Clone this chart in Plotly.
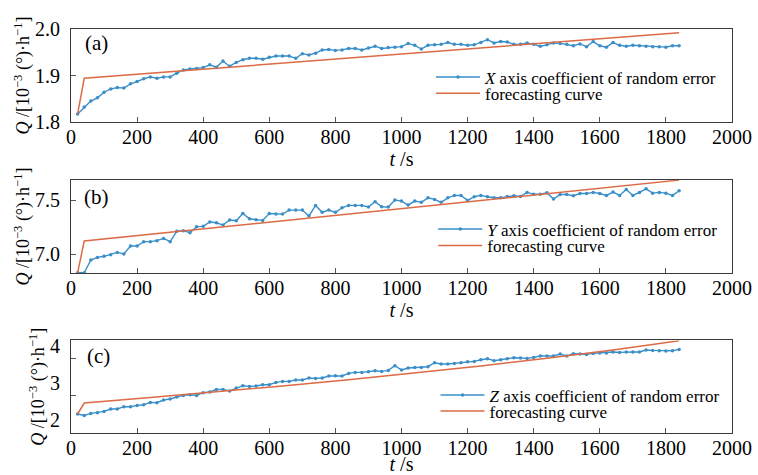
import plotly.graph_objects as go

# sampling instants (s)
t_s = [20, 40, 60, 80, 100, 120, 140, 160, 180, 200, 220, 240, 260, 280, 300,
       320, 340, 360, 380, 400, 420, 440, 460, 480, 500, 520, 540, 560, 580, 600,
       620, 640, 660, 680, 700, 720, 740, 760, 780, 800, 820, 840, 860, 880, 900,
       920, 940, 960, 980, 1000, 1020, 1040, 1060, 1080, 1100, 1120, 1140, 1160,
       1180, 1200, 1220, 1240, 1260, 1280, 1300, 1320, 1340, 1360, 1380, 1400,
       1420, 1440, 1460, 1480, 1500, 1520, 1540, 1560, 1580, 1600, 1620, 1640,
       1660, 1680, 1700, 1720, 1740, 1760, 1780, 1800, 1820, 1840]

# random-error coefficient, X axis
q_x = [1.817, 1.832, 1.845, 1.852, 1.864, 1.871, 1.874, 1.873, 1.882, 1.887,
       1.893, 1.897, 1.894, 1.897, 1.897, 1.905, 1.912, 1.914, 1.915, 1.917,
       1.923, 1.918, 1.931, 1.920, 1.928, 1.934, 1.937, 1.937, 1.935, 1.939,
       1.942, 1.942, 1.942, 1.937, 1.947, 1.944, 1.948, 1.955, 1.956, 1.954,
       1.955, 1.958, 1.958, 1.955, 1.959, 1.963, 1.958, 1.960, 1.961, 1.962,
       1.969, 1.965, 1.957, 1.965, 1.966, 1.967, 1.971, 1.967, 1.967, 1.965,
       1.966, 1.971, 1.977, 1.970, 1.973, 1.972, 1.967, 1.967, 1.970, 1.967,
       1.963, 1.966, 1.970, 1.969, 1.967, 1.964, 1.968, 1.962, 1.973, 1.964,
       1.961, 1.971, 1.965, 1.963, 1.965, 1.964, 1.963, 1.962, 1.962, 1.961,
       1.964, 1.964]

# random-error coefficient, Y axis
q_y = [6.830, 6.830, 6.948, 6.972, 6.982, 6.997, 7.018, 7.003, 7.077, 7.077,
       7.117, 7.117, 7.126, 7.147, 7.117, 7.212, 7.218, 7.199, 7.255, 7.258,
       7.298, 7.291, 7.270, 7.316, 7.310, 7.377, 7.328, 7.319, 7.313, 7.377,
       7.371, 7.371, 7.408, 7.408, 7.408, 7.353, 7.451, 7.387, 7.408, 7.387,
       7.429, 7.451, 7.451, 7.451, 7.436, 7.485, 7.439, 7.436, 7.500, 7.491,
       7.454, 7.491, 7.479, 7.521, 7.506, 7.479, 7.521, 7.543, 7.543, 7.497,
       7.531, 7.543, 7.531, 7.521, 7.521, 7.534, 7.540, 7.534, 7.571, 7.555,
       7.555, 7.567, 7.509, 7.552, 7.552, 7.540, 7.561, 7.561, 7.571, 7.561,
       7.543, 7.574, 7.543, 7.598, 7.543, 7.571, 7.604, 7.564, 7.571, 7.564,
       7.543, 7.586]

# random-error coefficient, Z axis
q_z = [2.513, 2.475, 2.529, 2.548, 2.583, 2.648, 2.648, 2.710, 2.710, 2.745,
       2.764, 2.826, 2.818, 2.891, 2.918, 2.972, 3.015, 3.034, 3.015, 3.088,
       3.107, 3.177, 3.177, 3.134, 3.215, 3.277, 3.258, 3.269, 3.304, 3.304,
       3.366, 3.393, 3.393, 3.431, 3.431, 3.485, 3.474, 3.485, 3.539, 3.547,
       3.539, 3.609, 3.636, 3.636, 3.655, 3.682, 3.663, 3.690, 3.817, 3.701,
       3.755, 3.771, 3.771, 3.790, 3.898, 3.863, 3.863, 3.879, 3.898, 3.925,
       3.933, 3.979, 4.006, 3.952, 3.979, 4.006, 4.033, 4.025, 4.014, 4.041,
       4.079, 4.079, 4.079, 4.133, 4.079, 4.141, 4.133, 4.122, 4.149, 4.160,
       4.160, 4.187, 4.176, 4.187, 4.187, 4.187, 4.241, 4.230, 4.222, 4.214,
       4.222, 4.257]

# forecasting curves
fc_t_x = [20, 40, 1840]
fc_x = [1.817, 1.894, 1.992]
fc_t_y = [20, 40, 1840]
fc_y = [6.830, 7.123, 7.684]
fc_t_z = [20, 40, 240, 440, 640, 840, 1040, 1240, 1440, 1640, 1840]
fc_z = [2.513, 2.810, 2.960, 3.110, 3.270, 3.440, 3.620, 3.810, 4.020, 4.240, 4.490]

x_ticks = [0, 200, 400, 600, 800, 1000, 1200, 1400, 1600, 1800, 2000]
axis_names = ["X", "Y", "Z"]
panel_tags = ["(a)", "(b)", "(c)"]
y_ranges = [[1.8, 2.0], [6.828, 7.685], [2.0, 4.5]]
y_tickvals = [[1.8, 1.9, 2.0], [7.0, 7.5], [2, 3, 4]]
y_formats = [".1f", ".1f", "d"]
y_label_shift = [0, 0, -13]

BLUE = "#3a8fc8"
ORANGE = "#dc6a45"
FONT = "Liberation Serif, DejaVu Serif, serif"
FRAME = "#3a3a3a"

series = [(t_s, q_x, fc_t_x, fc_x), (t_s, q_y, fc_t_y, fc_y), (t_s, q_z, fc_t_z, fc_z)]

# vertical extents of the three panels (paper fractions)
domains = [[0.7698, 1.0], [0.396, 0.6262], [0.0, 0.2292]]
# legend row centres (paper fractions) and left edges
legend_rows = [(0.880, 0.8396), (0.5037, 0.4627), (0.0929, 0.0532)]
legend_x = [0.5446, 0.548, 0.5515]
tag_pos = [(0.018, 0.849), (0.016, 0.82), (0.021, 0.827)]

fig = go.Figure()
layout = dict(
    template="none",
    width=758, height=475,
    margin=dict(l=71, r=26, t=29, b=42, autoexpand=False),
    paper_bgcolor="white", plot_bgcolor="white",
    font=dict(family=FONT, size=20, color="black"),
    showlegend=True,
)

annotations = []
for i, (tx, qv, ftx, fv) in enumerate(series):
    n = "" if i == 0 else str(i + 1)
    xa, ya = "x" + n, "y" + n
    lg_a = "legend" if i == 0 else "legend" + str(2 * i + 1)
    lg_b = "legend" + str(2 * i + 2)

    fig.add_trace(go.Scatter(
        x=tx, y=qv, xaxis=xa, yaxis=ya, mode="lines+markers",
        name="<i>%s</i> axis coefficient of random error" % axis_names[i],
        line=dict(color=BLUE, width=1.4),
        marker=dict(color=BLUE, size=3.5),
        legend=lg_a,
    ))
    fig.add_trace(go.Scatter(
        x=ftx, y=fv, xaxis=xa, yaxis=ya, mode="lines",
        name="forecasting curve",
        line=dict(color=ORANGE, width=1.5),
        legend=lg_b,
    ))

    for lg, yc in ((lg_a, legend_rows[i][0]), (lg_b, legend_rows[i][1])):
        layout[lg] = dict(
            x=legend_x[i], y=yc, xanchor="left", yanchor="middle",
            bgcolor="rgba(0,0,0,0)", borderwidth=0, itemwidth=44,
            font=dict(family=FONT, size=17, color="black"),
        )

    layout["xaxis" + n] = dict(
        domain=[0, 1], anchor=ya, range=[0, 2000], automargin=False,
        tickvals=x_ticks, ticks="inside", ticklen=5, tickcolor="#555",
        showline=True, linecolor=FRAME, linewidth=1, mirror=True,
        showgrid=False, zeroline=False,
        tickfont=dict(family=FONT, size=20),
        ticklabelstandoff=-3,
        title=dict(text="<i>t</i> /s", font=dict(family=FONT, size=20), standoff=0),
    )
    layout["yaxis" + n] = dict(
        domain=domains[i], anchor=xa, range=y_ranges[i], automargin=False,
        tickvals=y_tickvals[i], tickformat=y_formats[i],
        ticks="inside", ticklen=5, tickcolor="#555",
        showline=True, linecolor=FRAME, linewidth=1, mirror=True,
        showgrid=False, zeroline=False,
        tickfont=dict(family=FONT, size=20),
        ticklabelstandoff=6, ticklabelshift=y_label_shift[i],
        title=dict(text="<i>Q</i> /[10<sup>−3</sup> (°)·h<sup>−1</sup>]",
                   font=dict(family=FONT, size=18), standoff=0),
    )

    annotations.append(dict(
        text=panel_tags[i], xref=xa + " domain", yref=ya + " domain",
        x=tag_pos[i][0], y=tag_pos[i][1], xanchor="left", yanchor="middle",
        showarrow=False, font=dict(family=FONT, size=21, color="black"),
    ))

layout["annotations"] = annotations
fig.update_layout(**layout)
fig.write_html("out.html")
